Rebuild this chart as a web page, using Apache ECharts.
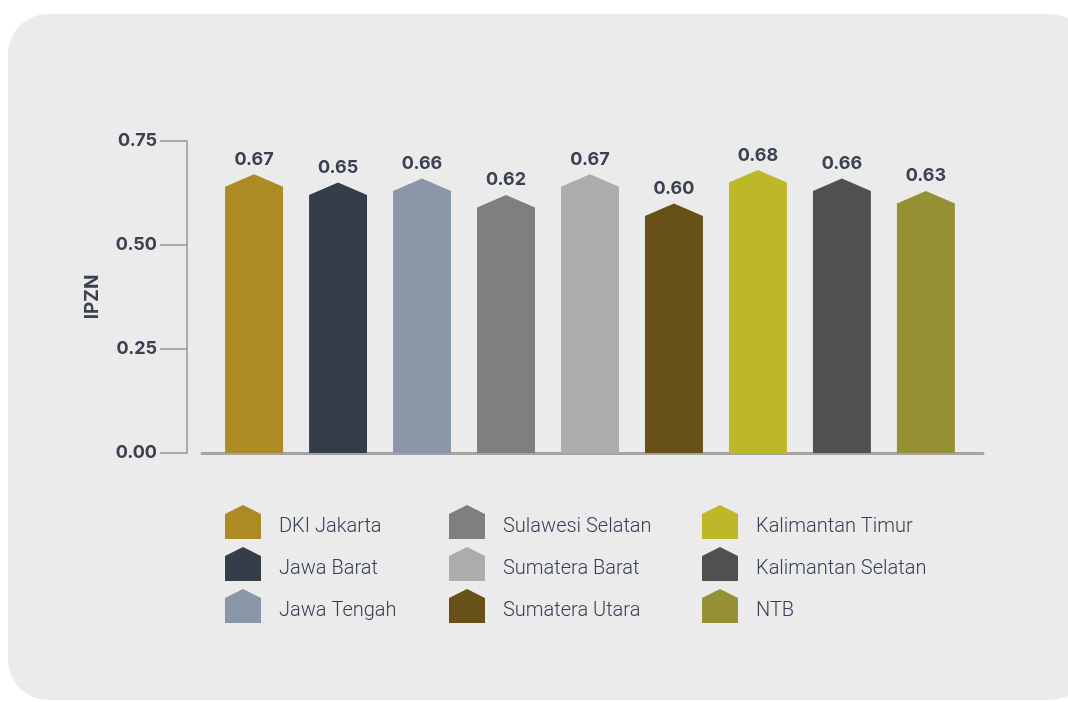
<!DOCTYPE html>
<html>
<head>
<meta charset="utf-8">
<script src="https://cdn.jsdelivr.net/npm/echarts@6/dist/echarts.min.js"></script>
<style>
  html, body { margin: 0; padding: 0; background: #ffffff; }
  #chart { width: 1068px; height: 702px; }
</style>
</head>
<body>
<div id="chart"></div>
<script>
const categories = ['DKI Jakarta', 'Jawa Barat', 'Jawa Tengah', 'Sulawesi Selatan', 'Sumatera Barat', 'Sumatera Utara', 'Kalimantan Timur', 'Kalimantan Selatan', 'NTB'];
const values = [0.67, 0.65, 0.66, 0.62, 0.67, 0.60, 0.68, 0.66, 0.63];
const colors = ['#ac8a24', '#363d4a', '#8a97a8', '#7f7f7f', '#adabab', '#675118', '#bdb827', '#505050', '#969035'];
const yTicks = [0, 0.25, 0.5, 0.75];
const legendColumns = [
  ['DKI Jakarta', 'Jawa Barat', 'Jawa Tengah'],
  ['Sulawesi Selatan', 'Sumatera Barat', 'Sumatera Utara'],
  ['Kalimantan Timur', 'Kalimantan Selatan', 'NTB']
];

const chart = echarts.init(document.getElementById('chart'));
const labelColor = '#3a4150';
const boldFont = 'Inter, "Noto Sans", sans-serif';
// house icon; the empty sub-path at the bottom leaves room so the label sits a little lower
const houseIcon = 'path://M0,9 L18,0 L36,9 L36,34 L0,34 Z M0,44 L0,44 Z';

function renderHouse(params, api) {
  const x = api.value(0), v = api.value(1);
  const top = api.coord([x, v]);
  const base = api.coord([x, 0]);
  const w = api.size([1, 0])[0] * 0.69;
  const roof = 12.5;
  const l = top[0] - w / 2, r = top[0] + w / 2;
  return {
    type: 'group',
    children: [
      {
        type: 'polygon',
        shape: { points: [[l, base[1]], [l, top[1] + roof], [top[0], top[1]], [r, top[1] + roof], [r, base[1]]] },
        style: { fill: api.visual('color') }
      },
      {
        type: 'text',
        x: top[0], y: top[1] - 6,
        style: {
          text: v.toFixed(2), fill: labelColor, align: 'center', verticalAlign: 'bottom',
          font: 'bold 18px ' + boldFont
        }
      }
    ]
  };
}

const series = categories.map((name, i) => ({
  name: name,
  type: 'custom',
  renderItem: renderHouse,
  itemStyle: { color: colors[i] },
  encode: { x: 0, y: 1 },
  data: [[i, values[i]]],
  z: 3
}));

const legends = legendColumns.map((col, k) => ({
  orient: 'vertical',
  left: [220, 444, 697][k],
  top: 500,
  data: col.map(n => ({ name: n, icon: houseIcon })),
  itemWidth: 36,
  itemHeight: 44,
  itemGap: -2,
  selectedMode: false,
  textStyle: {
    color: '#364057', fontSize: 20, fontWeight: 300, fontFamily: 'Roboto, "Noto Sans", sans-serif',
    padding: [0, 0, 0, 13]
  }
}));

chart.setOption({
  backgroundColor: '#ffffff',
  animation: false,
  color: colors,
  graphic: [{
    type: 'rect', z: -10, silent: true,
    shape: { x: 8, y: 14, width: 1082, height: 686, r: 40 },
    style: { fill: '#ebebeb' }
  }],
  legend: legends,
  grid: { left: 202, right: 85, top: 141, bottom: 249, containLabel: false },
  xAxis: {
    type: 'value', min: -0.62, max: 8.68,
    axisLine: { show: true, onZero: false, lineStyle: { color: '#a3a3a3', width: 3 } },
    axisTick: { show: false }, axisLabel: { show: false }, splitLine: { show: false }
  },
  yAxis: {
    type: 'value', min: yTicks[0], max: yTicks[yTicks.length - 1], interval: 0.25,
    offset: 15,
    name: 'IPZN', nameLocation: 'middle', nameGap: 85,
    nameTextStyle: { color: labelColor, fontSize: 19, fontWeight: 'bold', fontFamily: boldFont },
    axisLine: { show: true, onZero: false, lineStyle: { color: '#aaaaaa', width: 2 } },
    axisTick: { show: true, length: 27, lineStyle: { color: '#aaaaaa', width: 2 } },
    axisLabel: {
      margin: 30, color: labelColor, fontSize: 18, fontWeight: 'bold',
      fontFamily: boldFont,
      formatter: v => v.toFixed(2)
    },
    splitLine: { show: false }
  },
  series: series
});
</script>
</body>
</html>
